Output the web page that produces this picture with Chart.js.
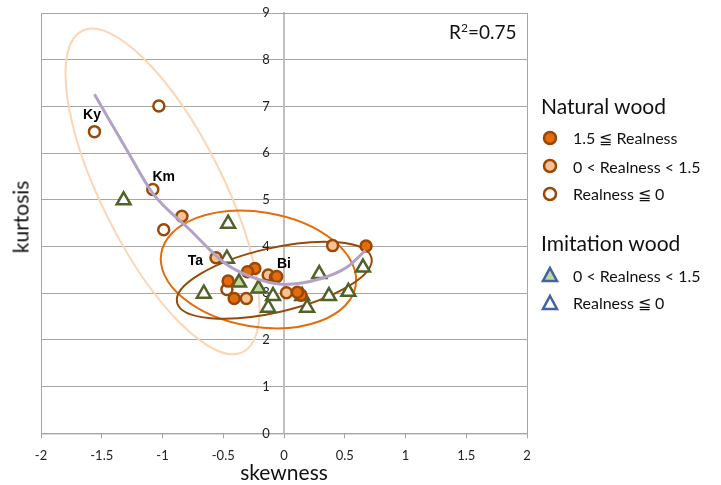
<!DOCTYPE html>
<html>
<head>
<meta charset="utf-8">
<script src="https://cdn.jsdelivr.net/npm/chart.js@4.4.1/dist/chart.umd.min.js"></script>
<style>
  body{margin:0;background:#fff;font-family:Lato,"Open Sans",sans-serif;}
  #wrap{position:relative;width:721px;height:485px;}
  #r2{position:absolute;left:449px;top:20px;font-size:19px;color:#111;}
  #r2 sup{font-size:12px;}
  #ytitle{position:absolute;left:20px;top:217px;transform:translate(-50%,-50%) rotate(-90deg);font-size:21px;color:#111;white-space:nowrap;}
  #xtitle{position:absolute;left:284px;top:471px;transform:translate(-50%,-50%);font-size:21px;color:#111;white-space:nowrap;}
  .legend{position:absolute;left:541px;color:#111;}
  .grp{font-size:21px;margin-bottom:6px;}
  .item{display:flex;align-items:center;height:28px;font-size:16px;}
  .item svg{width:20px;height:20px;margin-right:12px;}
</style>
</head>
<body>
<div id="wrap">
  <canvas id="myChart" width="721" height="485"></canvas>
  <div id="r2">R<sup>2</sup>=0.75</div>
  <div id="ytitle">kurtosis</div>
  <div id="xtitle">skewness</div>
  <div class="legend" style="top:93px">
    <div class="grp">Natural wood</div>
    <div class="item"><svg viewBox="0 0 20 20"><circle cx="9" cy="10" r="6" fill="#E46C0A" stroke="#984807" stroke-width="2.5"/></svg>1.5 ≦ Realness</div>
    <div class="item"><svg viewBox="0 0 20 20"><circle cx="9" cy="10" r="6" fill="#FAC090" stroke="#984807" stroke-width="2.5"/></svg>0 &lt; Realness &lt; 1.5</div>
    <div class="item"><svg viewBox="0 0 20 20"><circle cx="9" cy="10" r="6" fill="#fff" stroke="#984807" stroke-width="2.5"/></svg>Realness ≦ 0</div>
  </div>
  <div class="legend" style="top:230px">
    <div class="grp">Imitation wood</div>
    <div class="item"><svg viewBox="0 0 20 20"><polygon points="9,3 16,16 2,16" fill="#C3D69B" stroke="#3F64A0" stroke-width="2.5"/></svg>0 &lt; Realness &lt; 1.5</div>
    <div class="item"><svg viewBox="0 0 20 20"><polygon points="9,3 16,16 2,16" fill="#fff" stroke="#3F64A0" stroke-width="2.5"/></svg>Realness ≦ 0</div>
  </div>
</div>
<script>
var xTickLabels = ["-2","-1.5","-1","-0.5","0","0.5","1","1.5","2"];
var yTickLabels = ["0","1","2","3","4","5","6","7","8","9"];

// natural wood, realness >= 1.5  [skewness, kurtosis]
var natHigh = [[0.675,4.01],[-0.24,3.53],[-0.30,3.46],[-0.46,3.26],[-0.41,2.89],[0.14,2.96],[0.11,3.02],[-0.06,3.36]];
// natural wood, 0 < realness < 1.5
var natMid = [[-0.84,4.65],[-0.56,3.76],[0.40,4.02],[-0.13,3.39],[-0.31,2.89],[-0.07,3.34],[0.02,3.01]];
// natural wood, realness <= 0
var natLow = [[-1.56,6.46],[-1.03,7.01],[-1.08,5.22],[-0.99,4.36],[-0.47,3.08]];
// imitation wood
var imiMid = [[-0.37,3.23],[-0.21,3.10]];
var imiLow = [[-1.32,4.99],[-0.46,4.49],[-0.47,3.74],[-0.66,2.99],[-0.09,2.94],[-0.13,2.69],[0.15,2.94],[0.19,2.69],[0.29,3.41],[0.37,2.94],[0.53,3.03],[0.65,3.55]];
// trend curve
var trend = [[-1.56,7.26],[-1.29,6.05],[-1.08,5.14],[-0.77,4.35],[-0.50,3.67],[-0.28,3.36],[0,3.19],[0.30,3.31],[0.52,3.56],[0.67,3.92]];

// ellipses: centre, end of one axis, end of the other axis (data units)
var ellCentres = [[-1.00,5.18],[-0.21,3.51],[-0.08,3.28]];
var ellAxisA = [[-0.34,1.74],[0.59,3.16],[0.72,3.76]];
var ellAxisB = [[-1.45,4.62],[-0.29,2.30],[-0.02,2.61]];
var ellColors = ["#FCD5B5","#E46C0A","#984807"];

// point labels
var tagNames = ["Ky","Km","Ta","Bi"];
var tagAt = [[-1.58,6.81],[-0.99,5.49],[-0.73,3.69],[0.0,3.62]];

function toXY(arr){ return arr.map(function(p){ return {x:p[0], y:p[1]}; }); }

var extras = {
  id:'extras',
  beforeDatasetsDraw: function(chart){
    var ctx = chart.ctx, xs = chart.scales.x, ys = chart.scales.y, a = chart.chartArea;
    ctx.save();
    ctx.strokeStyle = "#A6A6A6";
    ctx.lineWidth = 1;
    ctx.strokeRect(a.left+0.5, a.top+0.5, a.right-a.left, a.bottom-a.top);
    for (var i=0;i<ellCentres.length;i++){
      var c=[xs.getPixelForValue(ellCentres[i][0]), ys.getPixelForValue(ellCentres[i][1])];
      var u=[xs.getPixelForValue(ellAxisA[i][0]), ys.getPixelForValue(ellAxisA[i][1])];
      var v=[xs.getPixelForValue(ellAxisB[i][0]), ys.getPixelForValue(ellAxisB[i][1])];
      ctx.beginPath();
      ctx.save();
      ctx.transform(u[0]-c[0], u[1]-c[1], v[0]-c[0], v[1]-c[1], c[0], c[1]);
      ctx.arc(0,0,1,0,Math.PI*2);
      ctx.restore();
      ctx.strokeStyle = ellColors[i];
      ctx.lineWidth = 2;
      ctx.stroke();
    }
    // y tick labels next to the axis at skewness 0
    ctx.font = "13px Lato";
    ctx.fillStyle = "#222";
    ctx.textAlign = "center";
    ctx.textBaseline = "middle";
    var x0 = xs.getPixelForValue(0) - 18;
    for (var k=0;k<yTickLabels.length;k++){
      ctx.fillText(yTickLabels[k], x0, ys.getPixelForValue(k));
    }
    ctx.restore();
  },
  afterDatasetsDraw: function(chart){
    var ctx = chart.ctx, xs = chart.scales.x, ys = chart.scales.y;
    ctx.save();
    ctx.font = "bold 14px 'Liberation Sans', Arial";
    ctx.fillStyle = "#000";
    ctx.textAlign = "center";
    ctx.textBaseline = "middle";
    for (var i=0;i<tagNames.length;i++){
      ctx.fillText(tagNames[i], xs.getPixelForValue(tagAt[i][0]), ys.getPixelForValue(tagAt[i][1]));
    }
    ctx.restore();
  }
};

var circ = {pointStyle:'circle', pointRadius:5.5, pointBorderWidth:2.5, borderColor:"#984807"};
var tri = {pointStyle:'triangle', pointRadius:8, pointBorderWidth:2.5, borderColor:"#4F6228"};

new Chart("myChart", {
  type: "scatter",
  data: {
    datasets: [
      {data: toXY(trend), showLine:true, borderColor:"#B3A2C7", borderWidth:3, pointRadius:0, tension:0.4, cubicInterpolationMode:'monotone'},
      Object.assign({data: toXY(natHigh), backgroundColor:"#E46C0A"}, circ),
      Object.assign({data: toXY(natMid), backgroundColor:"#FAC090"}, circ),
      Object.assign({data: toXY(natLow), backgroundColor:"#fff"}, circ),
      Object.assign({data: toXY(imiMid), backgroundColor:"#C3D69B"}, tri),
      Object.assign({data: toXY(imiLow), backgroundColor:"#fff"}, tri)
    ]
  },
  options: {
    responsive:false,
    animation:false,
    layout:{padding:{left:41, right:194, top:13, bottom:11}},
    plugins:{legend:{display:false}, tooltip:{enabled:false}},
    scales:{
      x:{
        min:-2, max:2,
        ticks:{stepSize:0.5, color:"#222", font:{size:13, family:"Lato"}, padding:10,
          callback:function(v){ return xTickLabels[Math.round((v+2)*2)]; }},
        grid:{drawOnChartArea:false, drawTicks:true, tickLength:5, color:"#A6A6A6"},
        border:{color:"#A6A6A6"}
      },
      y:{
        position:{x:0},
        min:0, max:9,
        ticks:{stepSize:1, display:false},
        grid:{color:"#A6A6A6", drawTicks:false},
        border:{color:"#BFBFBF", width:2}
      }
    }
  },
  plugins:[extras]
});
</script>
</body>
</html>
